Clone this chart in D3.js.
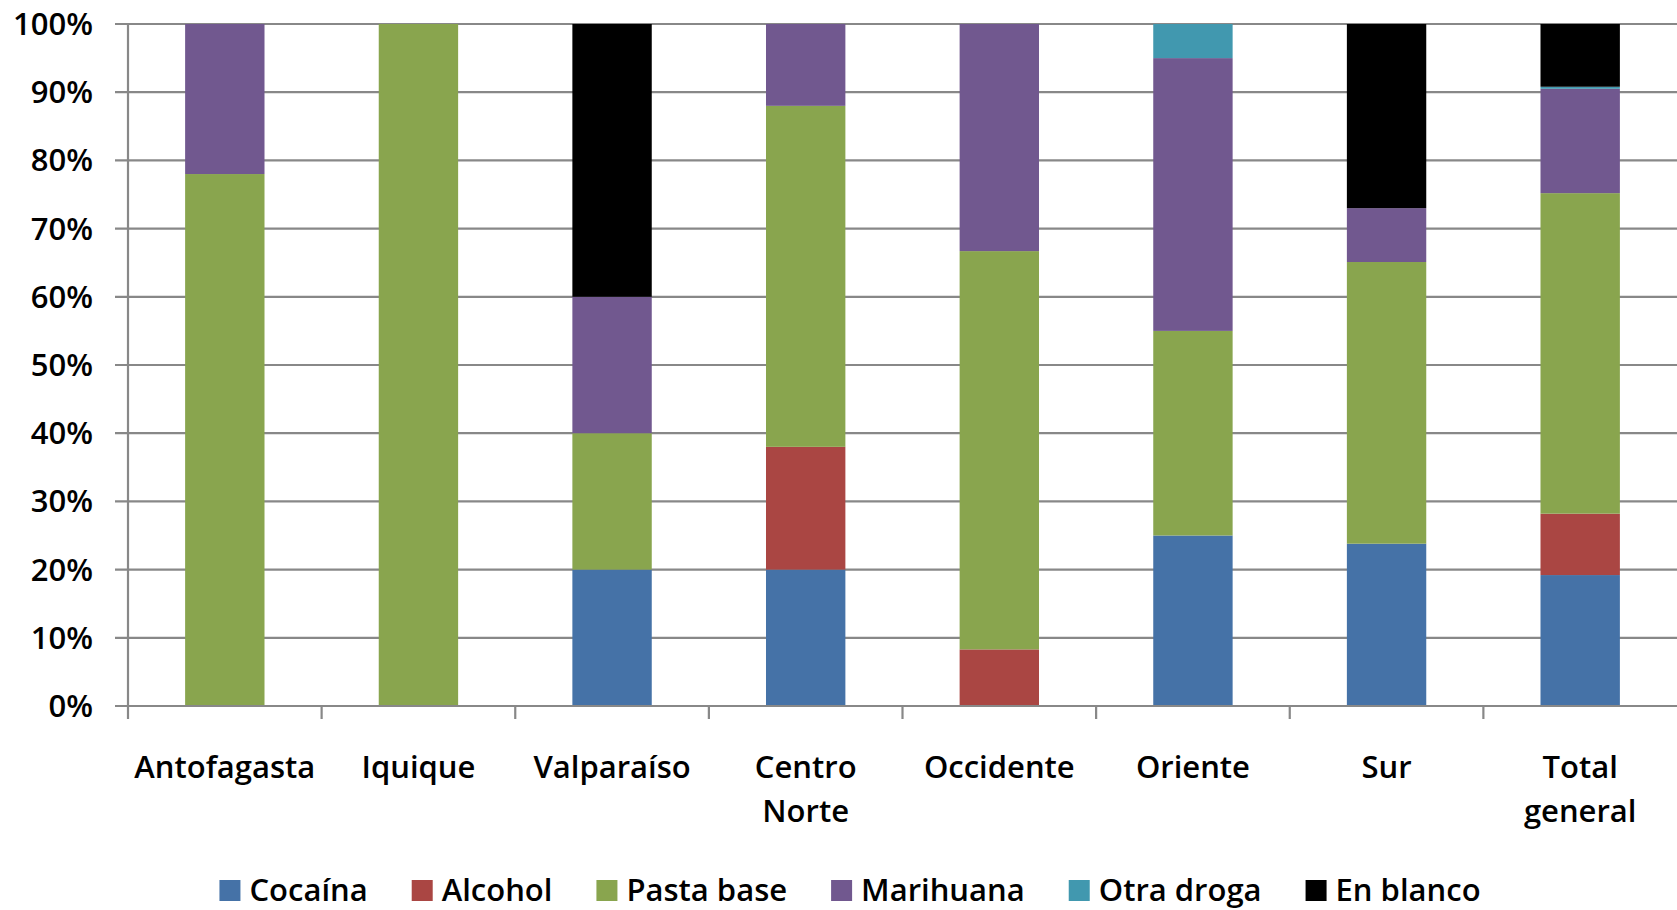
<!DOCTYPE html>
<html>
<head>
<meta charset="utf-8">
<script src="https://cdn.jsdelivr.net/npm/d3@7"></script>
<style>
  html, body { margin: 0; padding: 0; background: #fff; }
  svg text { font-family: "Open Sans", "DejaVu Sans", sans-serif; font-weight: 600; fill: #000; }
</style>
</head>
<body>
<svg id="chart" width="1677" height="910"></svg>
<script>
const categories = ["Antofagasta", "Iquique", "Valparaíso", "Centro Norte", "Occidente", "Oriente", "Sur", "Total general"];
const categoryLabels = [["Antofagasta"], ["Iquique"], ["Valparaíso"], ["Centro", "Norte"], ["Occidente"], ["Oriente"], ["Sur"], ["Total", "general"]];
const seriesNames = ["Cocaína", "Alcohol", "Pasta base", "Marihuana", "Otra droga", "En blanco"];
const seriesColors = ["#4572A7", "#AA4643", "#89A54E", "#71588F", "#4198AF", "#000000"];

const cocaina   = [0,   0,   20, 20, 0,    25, 23.8, 19.2];
const alcohol   = [0,   0,   0,  18, 8.3,  0,  0,    9.0];
const pastaBase = [78,  100, 20, 50, 58.4, 30, 41.3, 47.0];
const marihuana = [22,  0,   20, 12, 33.3, 40, 7.9,  15.3];
const otraDroga = [0,   0,   0,  0,  0,    5,  0,    0.3];
const enBlanco  = [0,   0,   40, 0,  0,    0,  27.0, 9.2];

const yTicks = [0, 10, 20, 30, 40, 50, 60, 70, 80, 90, 100];
const yTickLabels = ["0%", "10%", "20%", "30%", "40%", "50%", "60%", "70%", "80%", "90%", "100%"];

const seriesValues = [cocaina, alcohol, pastaBase, marihuana, otraDroga, enBlanco];
const rows = categories.map((c, i) => {
  const r = { category: c };
  seriesNames.forEach((s, j) => r[s] = seriesValues[j][i]);
  return r;
});

const svg = d3.select("#chart");
const mLeft = 128, mRight = 1677, mTop = 24, mBottom = 706;
const fs = 31;

const x = d3.scaleBand().domain(categories).range([mLeft, mRight]).paddingInner(0.59).paddingOuter(0.295);
const xb = d3.scaleBand().domain(categories).range([mLeft, mRight]).padding(0);
const y = d3.scaleLinear().domain([0, 100]).range([mBottom, mTop]);

const grid = "#888888";

// gridlines + y ticks
svg.append("g").selectAll("line").data(yTicks).join("line")
  .attr("x1", mLeft - 13).attr("x2", mRight)
  .attr("y1", d => y(d)).attr("y2", d => y(d))
  .attr("stroke", grid).attr("stroke-width", 2.2);

// y tick labels
svg.append("g").selectAll("text").data(yTicks).join("text")
  .attr("x", 93).attr("y", d => y(d) + 11)
  .attr("text-anchor", "end").attr("font-size", fs)
  .text((d, i) => yTickLabels[i]);

// bars
const stack = d3.stack().keys(seriesNames);
const stacked = stack(rows);
svg.append("g").selectAll("g").data(stacked).join("g")
  .attr("fill", (d, i) => seriesColors[i])
  .selectAll("rect").data(d => d).join("rect")
  .attr("x", d => x(d.data.category))
  .attr("width", x.bandwidth())
  .attr("y", d => y(d[1]))
  .attr("height", d => Math.max(0, y(d[0]) - y(d[1])));

// y axis line
svg.append("line").attr("x1", mLeft).attr("x2", mLeft).attr("y1", mTop).attr("y2", mBottom + 13)
  .attr("stroke", grid).attr("stroke-width", 2.2);
// x axis line
svg.append("line").attr("x1", mLeft - 13).attr("x2", mRight).attr("y1", mBottom).attr("y2", mBottom)
  .attr("stroke", grid).attr("stroke-width", 2.2);
// x ticks at band boundaries
svg.append("g").selectAll("line").data(categories.slice(1)).join("line")
  .attr("x1", d => xb(d)).attr("x2", d => xb(d))
  .attr("y1", mBottom).attr("y2", mBottom + 13)
  .attr("stroke", grid).attr("stroke-width", 2.2);

// x labels
const xl = svg.append("g").selectAll("text").data(categories).join("text")
  .attr("text-anchor", "middle").attr("font-size", fs)
  .attr("x", d => xb(d) + xb.bandwidth() / 2)
  .attr("y", 778);
xl.each(function(d, i) {
  const t = d3.select(this);
  categoryLabels[i].forEach((line, k) => {
    t.append("tspan").attr("x", xb(d) + xb.bandwidth() / 2).attr("y", 778 + k * 44).text(line);
  });
});

// legend
const lg = svg.append("g");
const items = lg.selectAll("g").data(seriesNames).join("g");
items.append("rect").attr("width", 21).attr("height", 21).attr("y", 880)
  .attr("fill", (d, i) => seriesColors[i]);
items.append("text").attr("x", 30).attr("y", 901).attr("font-size", fs).text(d => d);
let cx = 0;
const gap = 44;
items.each(function() {
  const g = d3.select(this);
  const w = 30 + g.select("text").node().getComputedTextLength();
  g.attr("transform", `translate(${cx},0)`);
  cx += w + gap;
});
const totalW = cx - gap;
lg.attr("transform", `translate(${850 - totalW / 2},0)`);
</script>
</body>
</html>
